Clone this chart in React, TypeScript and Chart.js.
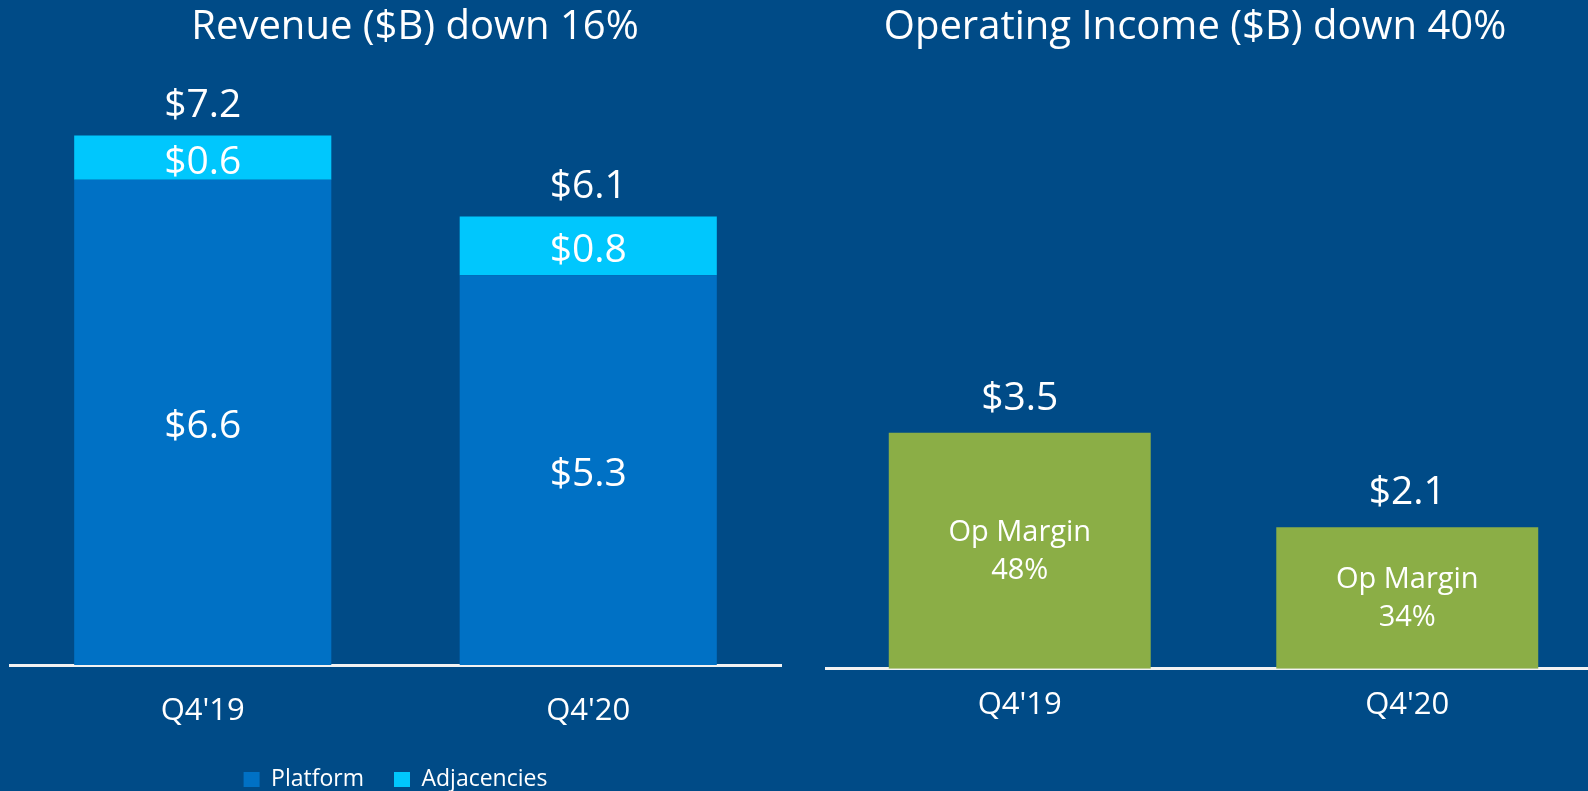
import React, { useEffect, useRef } from "react";
import { Chart, registerables } from "chart.js";

Chart.register(...registerables);

// ---- Data ----
const quarters = ["Q4'19", "Q4'20"];
const platform = [6.6, 5.3];
const adjacencies = [0.6, 0.8];
const revenueTotals = [7.2, 6.1];
const opIncome = [3.5, 2.1];
const opMargin = [48, 34];

const revenueTitle = "Revenue ($B) down 16%";
const incomeTitle = "Operating Income ($B) down 40%";

// ---- Styles ----
const BG = "#004B87";
const PLATFORM_COLOR = "#0071C5";
const ADJ_COLOR = "#00C7FD";
const GREEN = "#8BAE46";
const AXIS_COLOR = "#F2F2F2";
const FONT = "'Open Sans', Roboto, sans-serif";

const fmt = (v: number) => "$" + v.toFixed(1);

const revenueLabels = {
  id: "revenueLabels",
  afterDatasetsDraw(chart: any) {
    const ctx = chart.ctx;
    ctx.save();
    ctx.fillStyle = "#ffffff";
    ctx.textAlign = "center";
    ctx.textBaseline = "middle";
    ctx.font = `39px ${FONT}`;
    chart.data.datasets.forEach((ds: any, di: number) => {
      const meta = chart.getDatasetMeta(di);
      meta.data.forEach((el: any, i: number) => {
        ctx.fillText(fmt(ds.data[i]), el.x, (el.y + el.base) / 2 + 5);
      });
    });
    const topMeta = chart.getDatasetMeta(chart.data.datasets.length - 1);
    topMeta.data.forEach((el: any, i: number) => {
      ctx.fillText(fmt(revenueTotals[i]), el.x, el.y - 30);
    });
    ctx.restore();
  },
};

const incomeLabels = {
  id: "incomeLabels",
  afterDatasetsDraw(chart: any) {
    const ctx = chart.ctx;
    ctx.save();
    ctx.fillStyle = "#ffffff";
    ctx.textAlign = "center";
    ctx.textBaseline = "middle";
    const meta = chart.getDatasetMeta(0);
    meta.data.forEach((el: any, i: number) => {
      ctx.font = `39px ${FONT}`;
      ctx.fillText(fmt(opIncome[i]), el.x, el.y - 34);
      const mid = (el.y + el.base) / 2;
      ctx.font = `29px ${FONT}`;
      ctx.fillText("Op Margin", el.x, mid - 18);
      ctx.fillText(opMargin[i] + "%", el.x, mid + 20);
    });
    ctx.restore();
  },
};

function spacerAxis(position: string, width: number, extra: any = {}) {
  return {
    display: true,
    position,
    ...extra,
    grid: { display: false, drawTicks: false },
    border: { display: false },
    ticks: { display: false },
    afterFit(scale: any) {
      scale.width = width;
    },
  };
}

function useChart(ref: React.RefObject<HTMLCanvasElement>, makeConfig: () => any) {
  useEffect(() => {
    if (!ref.current) return;
    const chart = new Chart(ref.current, makeConfig());
    return () => chart.destroy();
  }, []);
}

export default function App() {
  const revRef = useRef<HTMLCanvasElement>(null);
  const incRef = useRef<HTMLCanvasElement>(null);

  useChart(revRef, () => ({
    type: "bar",
    data: {
      labels: quarters,
      datasets: [
        {
          label: "Platform",
          data: platform,
          backgroundColor: PLATFORM_COLOR,
          borderWidth: 0,
          barPercentage: 0.667,
          categoryPercentage: 1,
        },
        {
          label: "Adjacencies",
          data: adjacencies,
          backgroundColor: ADJ_COLOR,
          borderWidth: 0,
          barPercentage: 0.667,
          categoryPercentage: 1,
        },
      ],
    },
    options: {
      responsive: false,
      animation: false,
      devicePixelRatio: 1,
      layout: { padding: { left: 0, right: 0, top: 0, bottom: -10 } },
      plugins: {
        title: {
          display: true,
          text: revenueTitle,
          color: "#ffffff",
          font: { size: 40, family: FONT, weight: "normal" },
          padding: { top: 4, bottom: 10 },
        },
        legend: {
          display: true,
          position: "bottom",
          fullSize: false,
          labels: {
            color: "#ffffff",
            font: { size: 23, family: FONT },
            boxWidth: 16,
            boxHeight: 15,
            padding: 30,
          },
        },
        tooltip: { enabled: false },
      },
      scales: {
        x: {
          stacked: true,
          offset: true,
          grid: { display: false, drawTicks: false },
          border: { display: true, color: AXIS_COLOR, width: 3 },
          ticks: { color: "#ffffff", font: { size: 31, family: FONT }, padding: 28 },
          afterFit(scale: any) {
            scale.height = 73;
          },
        },
        y: spacerAxis("left", 10, { stacked: true, min: 0, max: 8.2 }),
        y2: spacerAxis("right", 49, { min: 0, max: 1 }),
      },
    },
    plugins: [revenueLabels],
  }));

  useChart(incRef, () => ({
    type: "bar",
    data: {
      labels: quarters,
      datasets: [
        {
          label: "Operating Income",
          data: opIncome,
          backgroundColor: GREEN,
          borderWidth: 0,
          barPercentage: 0.676,
          categoryPercentage: 1,
        },
      ],
    },
    options: {
      responsive: false,
      animation: false,
      devicePixelRatio: 1,
      layout: { padding: { left: 0, right: 0, top: 0, bottom: 49 } },
      plugins: {
        title: {
          display: true,
          text: incomeTitle,
          color: "#ffffff",
          font: { size: 40, family: FONT, weight: "normal" },
          padding: { top: 4, bottom: 10 },
        },
        legend: { display: false },
        tooltip: { enabled: false },
      },
      scales: {
        x: {
          offset: true,
          grid: { display: false, drawTicks: false },
          border: { display: true, color: AXIS_COLOR, width: 3 },
          ticks: { color: "#ffffff", font: { size: 31, family: FONT }, padding: 18 },
        },
        y: spacerAxis("left", 37, { min: 0, max: 9 }),
      },
    },
    plugins: [incomeLabels],
  }));

  return (
    <div
      style={{
        position: "fixed",
        left: 0,
        top: 0,
        width: 1588,
        height: 791,
        overflow: "hidden",
        background: BG,
      }}
    >
      <canvas
        ref={revRef}
        width={830}
        height={791}
        style={{ position: "absolute", left: 0, top: 0 }}
      />
      <canvas
        ref={incRef}
        width={812}
        height={791}
        style={{ position: "absolute", left: 789, top: 0 }}
      />
    </div>
  );
}
